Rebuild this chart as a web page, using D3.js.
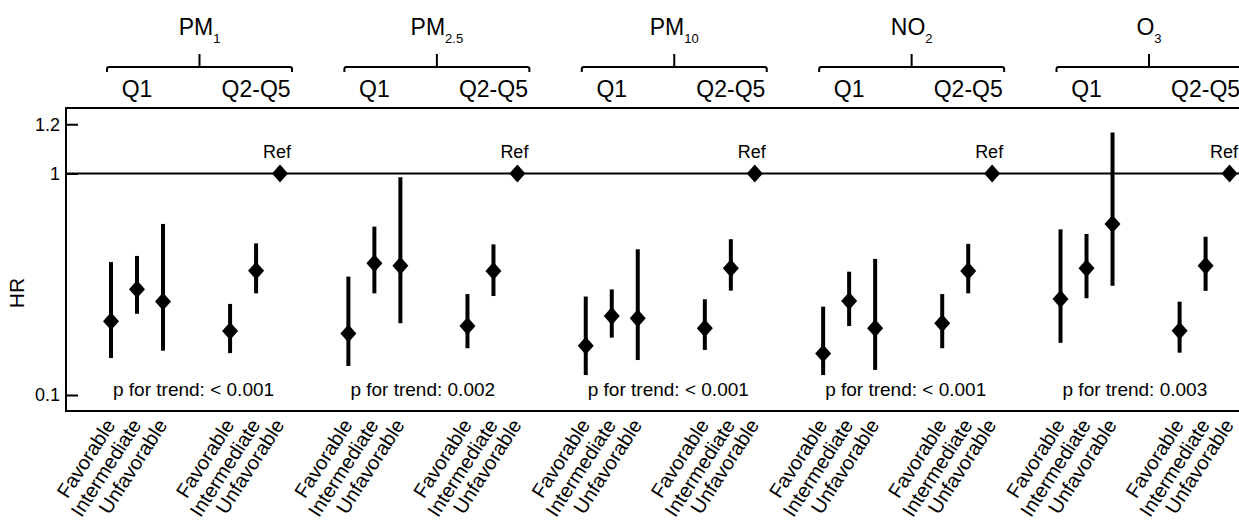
<!DOCTYPE html>
<html lang="en">
<head>
    <meta charset="UTF-8">
    <title>HR by pollutant quintile and lifestyle</title>
    <script src="https://d3js.org/d3.v7.min.js"></script>
    <style>
        body { margin: 0; background: #fff; font-family: Arial, "Liberation Sans", sans-serif; }
        svg text { fill: #000; }
    </style>
</head>
<body>
    <svg width="1239" height="524"></svg>

    <script>
        // pollutant groups (name split in base + subscript)
        const pollutantBase = ["PM", "PM", "PM", "NO", "O"];
        const pollutantSub = ["1", "2.5", "10", "2", "3"];
        const quintiles = ["Q1", "Q2-Q5"];
        const categories = ["Favorable", "Intermediate", "Unfavorable"];
        const pTrend = ["< 0.001", "0.002", "< 0.001", "< 0.001", "0.003"];
        const yTicks = [0.1, 1, 1.2];

        // 6 values per pollutant: Q1 fav/int/unf, Q2-Q5 fav/int/unf (last is Ref)
        const hrPM1  = [0.40, 0.53, 0.48, 0.36, 0.605, 1];
        const loPM1  = [0.25, 0.43, 0.28, 0.27, 0.513, null];
        const hiPM1  = [0.64, 0.665, 0.795, 0.47, 0.716, null];
        const hrPM25 = [0.35, 0.635, 0.625, 0.38, 0.604, 1];
        const loPM25 = [0.218, 0.513, 0.391, 0.29, 0.502, null];
        const hiPM25 = [0.581, 0.784, 0.985, 0.51, 0.712, null];
        const hrPM10 = [0.30, 0.421, 0.412, 0.371, 0.615, 1];
        const loPM10 = [0.181, 0.333, 0.242, 0.283, 0.524, null];
        const hiPM10 = [0.50, 0.529, 0.692, 0.489, 0.733, null];
        const hrNO2  = [0.269, 0.482, 0.371, 0.391, 0.604, 1];
        const loNO2  = [0.181, 0.38, 0.202, 0.29, 0.513, null];
        const hiNO2  = [0.459, 0.601, 0.653, 0.51, 0.714, null];
        const hrO3   = [0.49, 0.615, 0.795, 0.361, 0.625, 1];
        const loO3   = [0.312, 0.493, 0.544, 0.272, 0.523, null];
        const hiO3   = [0.773, 0.754, 1.166, 0.479, 0.743, null];

        const hrAll = [hrPM1, hrPM25, hrPM10, hrNO2, hrO3];
        const loAll = [loPM1, loPM25, loPM10, loNO2, loO3];
        const hiAll = [hiPM1, hiPM25, hiPM10, hiNO2, hiO3];

        // slot positions inside one group (in units of one point spacing)
        const slots = [0, 1, 2, 4.58, 5.58, 6.5];
        const groupStep = 9.13;

        const svg = d3.select("svg");
        const width = 1239;
        const frame = { left: 66, top: 108, bottom: 411 };

        const x = d3.scaleLinear().domain([0, 1]).range([111, 137]);
        const y = d3.scaleLinear().domain([0.035, 1.266]).range([frame.bottom, frame.top]);

        const pos = (g, s) => x(g * groupStep + slots[s]);

        // frame (open on the right)
        svg.append("path")
            .attr("d", `M${width + 5},${frame.top} H${frame.left} V${frame.bottom} H${width + 5}`)
            .attr("fill", "none")
            .attr("stroke", "#000")
            .attr("stroke-width", 2);

        // y axis, ticks pointing inward
        const yAxis = svg.append("g")
            .attr("transform", `translate(${frame.left},0)`)
            .call(d3.axisLeft(y).tickValues(yTicks).tickFormat(d => d).tickSize(-12).tickPadding(6));
        yAxis.select(".domain").remove();
        yAxis.selectAll(".tick line").attr("stroke", "#000").attr("stroke-width", 2);
        yAxis.selectAll(".tick text")
            .style("font-family", "Arial, 'Liberation Sans', sans-serif")
            .style("font-size", "18px")
            .attr("fill", "#000");

        svg.append("text")
            .attr("transform", "translate(24,293) rotate(-90)")
            .attr("text-anchor", "middle")
            .style("font-size", "21px")
            .text("HR");

        // reference line HR = 1
        svg.append("line")
            .attr("x1", frame.left).attr("x2", width + 5)
            .attr("y1", y(1)).attr("y2", y(1))
            .attr("stroke", "#000").attr("stroke-width", 2);

        // flatten points
        const points = [];
        hrAll.forEach((arr, g) => {
            arr.forEach((v, s) => {
                points.push({ g, s, hr: v, lo: loAll[g][s], hi: hiAll[g][s] });
            });
        });

        svg.selectAll(".ci")
            .data(points.filter(d => d.lo != null))
            .enter()
            .append("line")
            .attr("class", "ci")
            .attr("x1", d => pos(d.g, d.s)).attr("x2", d => pos(d.g, d.s))
            .attr("y1", d => y(d.lo)).attr("y2", d => y(d.hi))
            .attr("stroke", "#000").attr("stroke-width", 4);

        svg.selectAll(".pt")
            .data(points)
            .enter()
            .append("path")
            .attr("class", "pt")
            .attr("d", "M0,-9L8,0L0,9L-8,0Z")
            .attr("transform", d => `translate(${pos(d.g, d.s)},${y(d.hr)})`)
            .attr("fill", "#000");

        const groups = svg.selectAll(".grp")
            .data(pollutantBase.map((b, i) => ({ i, base: b, sub: pollutantSub[i], p: pTrend[i] })))
            .enter()
            .append("g")
            .attr("class", "grp");

        // Ref labels (last one kept inside the picture)
        groups.append("text")
            .attr("x", d => Math.min(pos(d.i, 5) - 17, width - 29))
            .attr("y", 158)
            .style("font-size", "18px")
            .text("Ref");

        // p for trend
        groups.append("text")
            .attr("x", d => pos(d.i, 0) + 2)
            .attr("y", 396)
            .style("font-size", "19px")
            .text(d => `p for trend: ${d.p}`);

        // brackets
        groups.append("path")
            .attr("d", d => {
                const l = pos(d.i, 0) - 4, r = pos(d.i, 5) + 12, c = (l + r) / 2;
                return `M${l},72 V69 Q${l},67 ${l + 2},67 H${r - 2} Q${r},67 ${r},69 V72 M${c},67 V54`;
            })
            .attr("fill", "none")
            .attr("stroke", "#000")
            .attr("stroke-width", 2);

        // pollutant titles with subscript
        const titles = groups.append("text")
            .attr("x", d => (pos(d.i, 0) - 4 + pos(d.i, 5) + 12) / 2)
            .attr("y", 35)
            .attr("text-anchor", "middle")
            .style("font-size", "23px");
        titles.append("tspan").text(d => d.base);
        titles.append("tspan")
            .attr("dy", 8)
            .style("font-size", "13px")
            .text(d => d.sub);

        // quintile labels
        quintiles.forEach((q, qi) => {
            groups.append("text")
                .attr("x", d => pos(d.i, qi === 0 ? 1 : 4))
                .attr("y", 97)
                .attr("text-anchor", "middle")
                .style("font-size", "23px")
                .text(q);
        });

        // rotated category labels
        groups.each(function (d) {
            d3.select(this).selectAll(".cat")
                .data(d3.range(6).map(s => ({ s, label: categories[s % 3] })))
                .enter()
                .append("text")
                .attr("class", "cat")
                .attr("text-anchor", "end")
                .attr("transform", c => `translate(${pos(d.i, c.s) + 5},425) rotate(-57)`)
                .style("font-size", "20px")
                .text(c => c.label);
        });
    </script>
</body>
</html>
